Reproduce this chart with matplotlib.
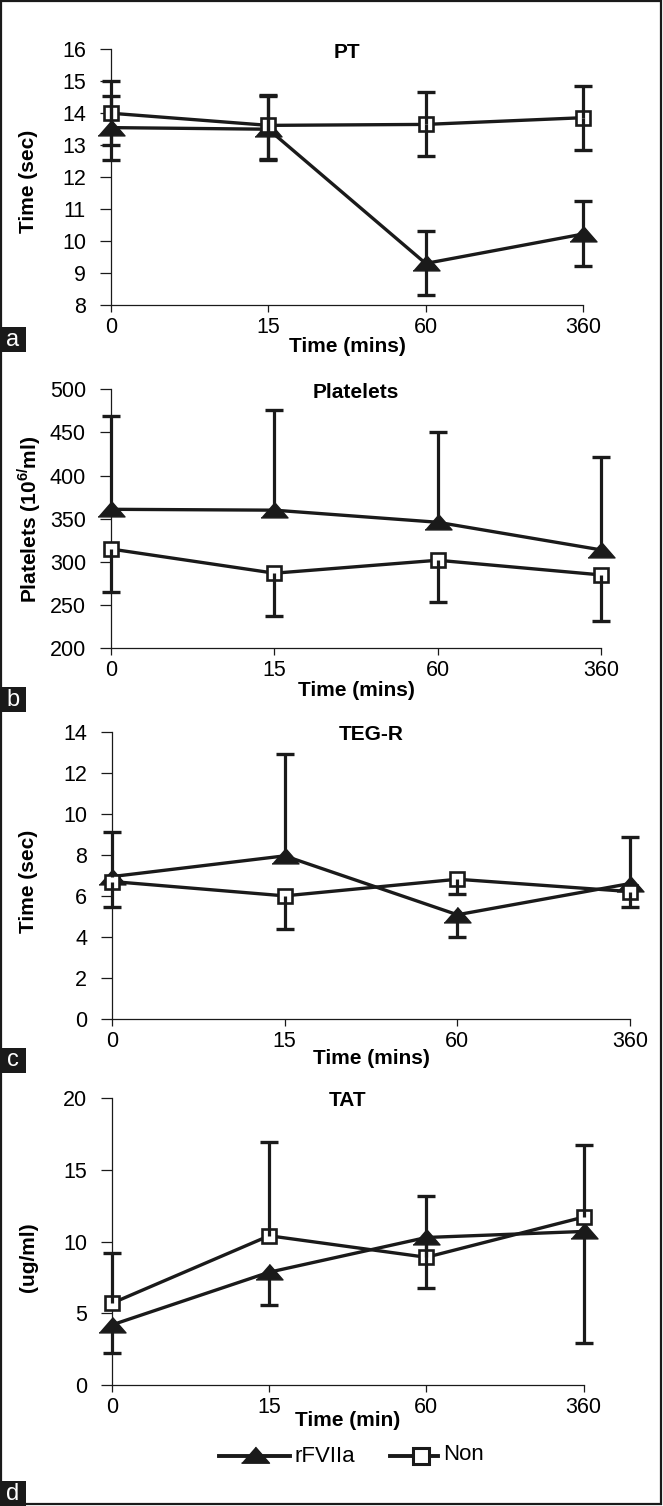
import numpy as np
import matplotlib
matplotlib.use('Agg')
import matplotlib.pyplot as plt
from matplotlib.lines import Line2D
from matplotlib.patches import Rectangle
from matplotlib.transforms import offset_copy

plt.rcParams['font.family'] = ['Liberation Sans', 'DejaVu Sans']
plt.rcParams['mathtext.fontset'] = 'custom'
plt.rcParams['mathtext.rm'] = 'Liberation Sans'
plt.rcParams['mathtext.bf'] = 'Liberation Sans:bold'

# Datos
tiempos = ['0', '15', '60', '360']

pt_rf = [13.55, 13.5, 9.3, 10.22]
pt_rf_lo = [1.0, 0.95, 1.0, 1.0]
pt_rf_hi = [1.0, 1.05, 1.02, 1.03]
pt_non = [14.0, 13.62, 13.65, 13.86]
pt_non_lo = [1.0, 1.05, 1.0, 1.02]
pt_non_hi = [1.0, 0.95, 1.02, 1.0]

pl_rf = [361, 360, 346, 314]
pl_rf_lo = [0, 0, 0, 0]
pl_rf_hi = [108, 116, 105, 108]
pl_non = [315, 287, 302, 285]
pl_non_lo = [50, 50, 48, 53]
pl_non_hi = [0, 0, 0, 0]

teg_rf = [6.94, 7.95, 5.08, 6.6]
teg_rf_lo = [0, 0, 1.1, 0]
teg_rf_hi = [2.19, 4.95, 0, 2.26]
teg_non = [6.7, 6.0, 6.81, 6.21]
teg_non_lo = [1.22, 1.62, 0.7, 0.76]
teg_non_hi = [0, 0, 0, 0]

tat_rf = [4.19, 7.86, 10.28, 10.7]
tat_rf_lo = [1.98, 2.28, 3.54, 7.79]
tat_rf_hi = [0, 0, 0, 0]
tat_non = [5.7, 10.4, 8.9, 11.7]
tat_non_lo = [0, 0, 0, 0]
tat_non_hi = [3.49, 6.5, 4.24, 5.04]

W, H = 663, 1506
fig = plt.figure(figsize=(W / 100, H / 100), dpi=100)

def fx(x):
    return x / W

def fy(y):
    return 1 - y / H

tri = [(-1, -0.55), (1, -0.55), (0, 0.6)]
PT = 1.39  # px por punto
NEGRO = '#1a1a1a'

def barras(ax, x, y, lo, hi):
    y = np.asarray(y, float)
    for xi, yi, l, h in zip(x, y, lo, hi):
        for fin in ([yi - l] if l > 0 else []) + ([yi + h] if h > 0 else []):
            ax.vlines(xi, yi, fin, color=NEGRO, lw=2.3, zorder=4)
            ax.plot([xi], [fin], marker='_', ms=19 / PT, mew=2.4,
                    color=NEGRO, zorder=4)

# (datos, limites, ticks, titulo, ylabel, xlabel, caja en px: izq, der, arriba, abajo, ...)
paneles = [
    (pt_rf, pt_rf_lo, pt_rf_hi, pt_non, pt_non_lo, pt_non_hi, (8, 16), np.arange(8, 17, 1),
     'PT', 'Time (sec)', 'Time (mins)', (111, 583, 49.3, 305), 42, 181, 'a', 327),
    (pl_rf, pl_rf_lo, pl_rf_hi, pl_non, pl_non_lo, pl_non_hi, (200, 500), np.arange(200, 501, 50),
     'Platelets', r'Platelets (10$^{\mathbf{6/}}$ml)', 'Time (mins)', (111, 601, 389.3, 648.3), 42, 519, 'b', 687),
    (teg_rf, teg_rf_lo, teg_rf_hi, teg_non, teg_non_lo, teg_non_hi, (0, 14), np.arange(0, 15, 2),
     'TEG-R', 'Time (sec)', 'Time (mins)', (112, 630, 731.7, 1019), 39, 881, 'c', 1048),
    (tat_rf, tat_rf_lo, tat_rf_hi, tat_non, tat_non_lo, tat_non_hi, (0, 20), np.arange(0, 21, 5),
     'TAT', '(ug/ml)', 'Time (min)', (112, 583.5, 1098, 1385), 35, 1257, 'd', 1481),
]

x = np.arange(len(tiempos))
for (rf, rlo, rhi, non, nlo, nhi, ylim, yt, tit, ylab, xlab, caja, xoff, ylab_y, letra, ly) in paneles:
    l, r, t, b = caja
    ax = fig.add_axes([fx(l), fy(b), (r - l) / W, (b - t) / H])
    ax.plot(x, rf, color=NEGRO, lw=2.4, marker=tri, ms=27 / PT, zorder=3)
    ax.plot(x, non, color=NEGRO, lw=2.4, marker='s', ms=10, mfc='white',
            mec=NEGRO, mew=1.9, zorder=3)
    barras(ax, x, rf, rlo, rhi)
    barras(ax, x, non, nlo, nhi)
    ax.set_xlim(0, 3)
    ax.set_ylim(*ylim)
    ax.set_yticks(yt)
    ax.set_xticks(x)
    ax.set_xticklabels(tiempos)
    for s in ['top', 'right']:
        ax.spines[s].set_visible(False)
    for s in ['left', 'bottom']:
        ax.spines[s].set_linewidth(0.9)
        ax.spines[s].set_color(NEGRO)
    ax.tick_params(axis='y', length=8, width=0.9, pad=10, labelsize=15.5, color=NEGRO)
    ax.tick_params(axis='x', length=5, width=0.9, pad=3.5, labelsize=15.5, color=NEGRO)
    for sp in ax.spines.values():
        sp.set_clip_on(False)
    for art in ax.lines + ax.collections:
        art.set_clip_on(False)
    ax.text(0.5, 1.0, tit, transform=offset_copy(ax.transAxes, fig, y=-3, units='dots'),
            ha='center', va='center', fontsize=15, fontweight='bold')
    ax.text(0.5, 0.0, xlab, transform=offset_copy(ax.transAxes, fig, y=-xoff, units='dots'),
            ha='center', va='center', fontsize=15, fontweight='bold')
    fig.text(fx(29), fy(ylab_y), ylab, rotation=90, ha='center', va='center',
             fontsize=15, fontweight='bold')
    # etiqueta del panel
    fig.add_artist(Rectangle((0, fy(ly + 25)), 26 / W, 25 / H, transform=fig.transFigure,
                             facecolor=NEGRO, edgecolor='none'))
    fig.text(fx(13), fy(ly + 12.5), letra, color='white', ha='center', va='center', fontsize=17)

# Leyenda
fig.add_artist(Line2D([fx(219), fx(290)], [fy(1456), fy(1456)], color=NEGRO, lw=2.8,
                      transform=fig.transFigure))
fig.add_artist(Line2D([fx(255)], [fy(1455)], marker=tri, ms=28 / PT, color=NEGRO,
                      transform=fig.transFigure))
fig.text(fx(294), fy(1456), 'rFVIIa', ha='left', va='center', fontsize=16)
fig.add_artist(Line2D([fx(390), fx(438)], [fy(1456), fy(1456)], color=NEGRO, lw=2.8,
                      transform=fig.transFigure))
fig.add_artist(Line2D([fx(421)], [fy(1456)], marker='s', ms=12, mfc='white', mec=NEGRO,
                      mew=2.2, transform=fig.transFigure))
fig.text(fx(443), fy(1454), 'Non', ha='left', va='center', fontsize=16)

# Marco exterior
fig.add_artist(Rectangle((fx(1), fy(1504)), 660 / W, 1503 / H, transform=fig.transFigure,
                         facecolor='none', edgecolor=NEGRO, lw=1.6))

fig.savefig('out.png', dpi=100)
